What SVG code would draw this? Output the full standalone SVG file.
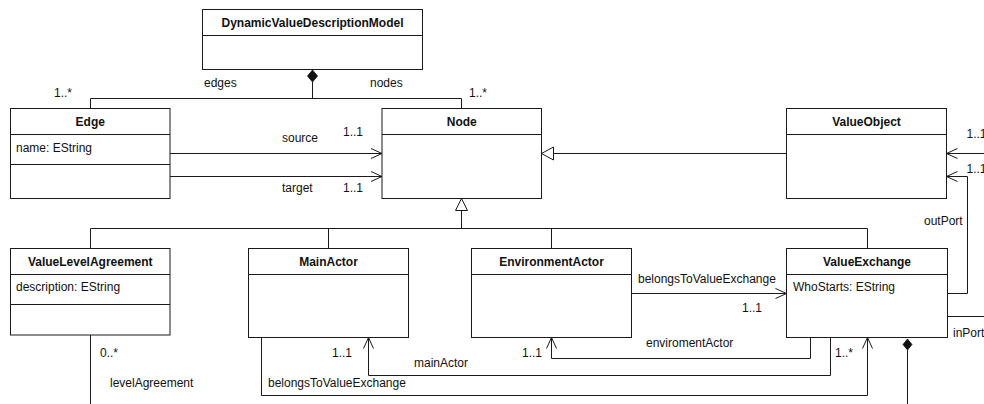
<svg xmlns="http://www.w3.org/2000/svg" width="984" height="404" viewBox="0 0 984 404">
  <style>
    .box { fill: #ffffff; stroke: #1a1a1a; stroke-width: 1; }
    .div { stroke: #1a1a1a; stroke-width: 1; }
    .title { font-family: "Liberation Sans", Arial, sans-serif; font-size: 12px; font-weight: bold; fill: #111; text-anchor: middle; }
    .attr { font-family: "Liberation Sans", Arial, sans-serif; font-size: 12px; fill: #111; }
    .lbl { font-family: "Liberation Sans", Arial, sans-serif; font-size: 12px; fill: #111; }
    .edge { fill: none; stroke: #1a1a1a; stroke-width: 1; }
    .nav { marker-end: url(#open); }
    .gen { marker-end: url(#tri); }
  </style>
  <defs>
    <marker id="open" markerUnits="userSpaceOnUse" markerWidth="14" markerHeight="14" refX="12" refY="6" orient="auto" overflow="visible">
      <path d="M1,1 L12,6 L1,11" fill="none" stroke="#1a1a1a" stroke-width="1"/>
    </marker>
    <marker id="tri" markerUnits="userSpaceOnUse" markerWidth="14" markerHeight="16" refX="12" refY="7" orient="auto" overflow="visible">
      <path d="M0,0.5 L12,7 L0,13.5 Z" fill="#ffffff" stroke="#1a1a1a" stroke-width="1"/>
    </marker>
  </defs>

  <!-- connectors -->
  <g id="connectors">
    <!-- composition: model -> edges / nodes -->
    <path class="edge" d="M312.5,82 V98.5 M90.5,108.5 V98.5 H461.5 V108.5"/>
    <path d="M312.5,70 L317.5,76 L312.5,82 L307.5,76 Z" fill="#111" stroke="#111" stroke-width="0.8"/>

    <!-- Edge -> Node (source / target) -->
    <path class="edge nav" d="M170,153.5 H382"/>
    <path class="edge nav" d="M170,176.5 H382"/>

    <!-- ValueObject generalizes Node -->
    <path class="edge gen" d="M786.5,153.5 H541.5"/>

    <!-- generalization tree for subclasses of Node -->
    <path class="edge" d="M90.5,248.5 V228.5 H867.5 V248.5 M328.5,228.5 V248.5 M551.5,228.5 V248.5 M461.5,228.5 V210.5"/>
    <path d="M461.5,198.5 L467.5,210.5 L455.5,210.5 Z" fill="#ffffff" stroke="#1a1a1a" stroke-width="1"/>

    <!-- ports into ValueObject -->
    <path class="edge nav" d="M990,153.5 H946.5"/>
    <path class="edge nav" d="M947.5,293.5 H967.5 V176.5 H946.5"/>
    <path class="edge" d="M947.5,316.5 H990"/>

    <!-- EnvironmentActor -> ValueExchange -->
    <path class="edge nav" d="M631.5,293.5 H786.5"/>

    <!-- ValueExchange -> EnvironmentActor -->
    <path class="edge nav" d="M810.5,337.5 V358.5 H551.5 V337.5"/>

    <!-- ValueExchange -> MainActor -->
    <path class="edge nav" d="M830.5,337.5 V375.5 H368.5 V337.5"/>

    <!-- MainActor -> ValueExchange -->
    <path class="edge nav" d="M261.5,337.5 V395.5 H867.5 V337.5"/>

    <!-- ValueExchange composition downward -->
    <path class="edge" d="M907.5,350 V404"/>
    <path d="M907.5,339 L912,344.5 L907.5,350 L903,344.5 Z" fill="#111" stroke="#111" stroke-width="0.8"/>

    <!-- levelAgreement -->
    <path class="edge" d="M90.5,335 V404"/>

    <!-- association labels -->
    <text class="lbl" x="204" y="87">edges</text>
    <text class="lbl" x="370" y="87">nodes</text>
    <text class="lbl" x="54" y="97">1..*</text>
    <text class="lbl" x="469" y="97">1..*</text>
    <text class="lbl" x="282" y="142">source</text>
    <text class="lbl" x="343" y="136">1..1</text>
    <text class="lbl" x="282" y="192">target</text>
    <text class="lbl" x="343" y="192">1..1</text>
    <text class="lbl" x="966.5" y="138">1..1</text>
    <text class="lbl" x="966.5" y="173">1..1</text>
    <text class="lbl" x="924" y="225">outPort</text>
    <text class="lbl" x="953" y="337">inPort</text>
    <text class="lbl" x="638" y="283">belongsToValueExchange</text>
    <text class="lbl" x="742" y="312">1..1</text>
    <text class="lbl" x="646" y="347">enviromentActor</text>
    <text class="lbl" x="522" y="357">1..1</text>
    <text class="lbl" x="332" y="357">1..1</text>
    <text class="lbl" x="414" y="367">mainActor</text>
    <text class="lbl" x="268" y="387">belongsToValueExchange</text>
    <text class="lbl" x="835" y="357">1..*</text>
    <text class="lbl" x="100" y="357">0..*</text>
    <text class="lbl" x="110" y="387">levelAgreement</text>
  </g>

  <!-- classes -->
  <g id="DynamicValueDescriptionModel">
    <rect class="box" x="202.5" y="9.5" width="220" height="60"/>
    <line class="div" x1="202.5" y1="35.5" x2="422.5" y2="35.5"/>
    <text class="title" x="312.5" y="27">DynamicValueDescriptionModel</text>
  </g>

  <g id="Edge">
    <rect class="box" x="10.5" y="108.5" width="159.5" height="90"/>
    <line class="div" x1="10.5" y1="134.5" x2="170" y2="134.5"/>
    <line class="div" x1="10.5" y1="164.5" x2="170" y2="164.5"/>
    <text class="title" x="90.25" y="125.5">Edge</text>
    <text class="attr" x="16" y="151.5">name: EString</text>
  </g>

  <g id="Node">
    <rect class="box" x="382" y="108.5" width="159.5" height="90"/>
    <line class="div" x1="382" y1="134.5" x2="541.5" y2="134.5"/>
    <text class="title" x="461.75" y="125.5">Node</text>
  </g>

  <g id="ValueObject">
    <rect class="box" x="786.5" y="108.5" width="160" height="90"/>
    <line class="div" x1="786.5" y1="134.5" x2="946.5" y2="134.5"/>
    <text class="title" x="866.5" y="125.5">ValueObject</text>
  </g>

  <g id="ValueLevelAgreement">
    <rect class="box" x="10.5" y="248.5" width="159.5" height="86.5"/>
    <line class="div" x1="10.5" y1="274.5" x2="170" y2="274.5"/>
    <line class="div" x1="10.5" y1="304.5" x2="170" y2="304.5"/>
    <text class="title" x="90.25" y="265.5">ValueLevelAgreement</text>
    <text class="attr" x="16" y="291">description: EString</text>
  </g>

  <g id="MainActor">
    <rect class="box" x="248.5" y="248.5" width="160" height="89"/>
    <line class="div" x1="248.5" y1="274.5" x2="408.5" y2="274.5"/>
    <text class="title" x="328.5" y="265.5">MainActor</text>
  </g>

  <g id="EnvironmentActor">
    <rect class="box" x="471.5" y="248.5" width="160" height="89"/>
    <line class="div" x1="471.5" y1="274.5" x2="631.5" y2="274.5"/>
    <text class="title" x="551.5" y="265.5">EnvironmentActor</text>
  </g>

  <g id="ValueExchange">
    <rect class="box" x="786.5" y="248.5" width="161" height="89"/>
    <line class="div" x1="786.5" y1="274.5" x2="947.5" y2="274.5"/>
    <text class="title" x="867" y="265.5">ValueExchange</text>
    <text class="attr" x="793" y="291">WhoStarts: EString</text>
  </g>
</svg>
